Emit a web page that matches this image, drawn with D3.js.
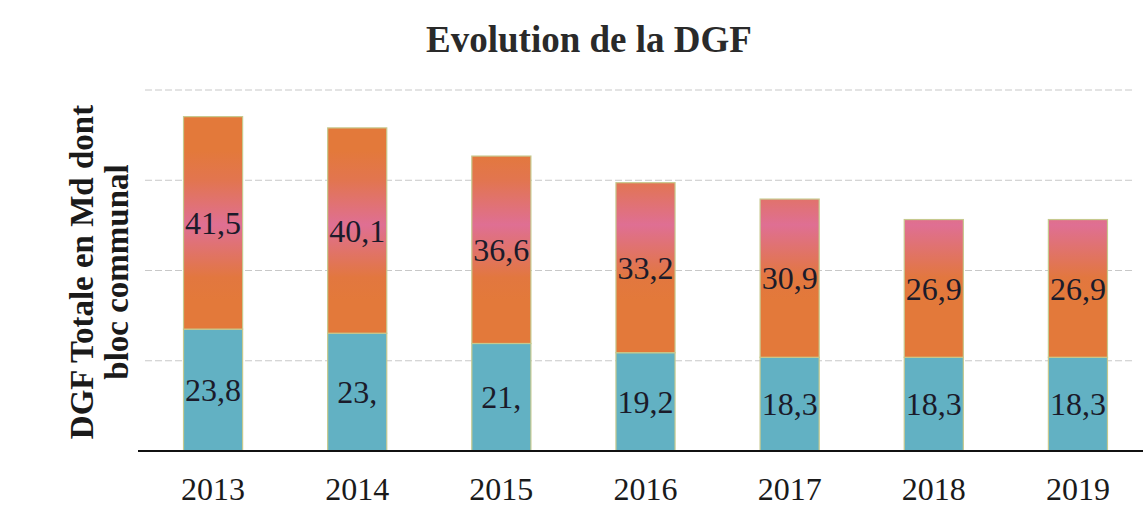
<!DOCTYPE html>
<html>
<head>
<meta charset="utf-8">
<script src="https://cdn.jsdelivr.net/npm/d3@7"></script>
<style>
  html, body { margin: 0; padding: 0; background: #ffffff; }
  svg { display: block; }
</style>
</head>
<body>
<svg id="chart" width="1143" height="506"></svg>
<script>
// ---- Data ----
const years = ["2013", "2014", "2015", "2016", "2017", "2018", "2019"];
const blocCommunal = [23.8, 23.0, 21.0, 19.2, 18.3, 18.3, 18.3];
const dgfTotale = [41.5, 40.1, 36.6, 33.2, 30.9, 26.9, 26.9];
const blocLabels = ["23,8", "23,", "21,", "19,2", "18,3", "18,3", "18,3"];
const totaleLabels = ["41,5", "40,1", "36,6", "33,2", "30,9", "26,9", "26,9"];
const yMax = 70.5;
const gridCount = 4;

const title = "Evolution de la DGF";
const yTitleLines = ["DGF Totale en Md dont", "bloc communal"];

// ---- Setup ----
const svg = d3.select("#chart");
const W = 1143, H = 506;
svg.append("rect").attr("width", W).attr("height", H).attr("fill", "#ffffff");

const x = d3.scaleBand().domain(years).range([141, 1150]).paddingInner(0.59).paddingOuter(0.295);
const y = d3.scaleLinear().domain([0, yMax]).range([451, 90]);

// gradient for the upper series (user space so the pink band sits at the same height)
const defs = svg.append("defs");
const grad = defs.append("linearGradient")
  .attr("id", "topGrad")
  .attr("gradientUnits", "userSpaceOnUse")
  .attr("x1", 0).attr("x2", 0)
  .attr("y1", 150).attr("y2", 300);
grad.append("stop").attr("offset", "0").attr("stop-color", "#e3793a");
grad.append("stop").attr("offset", "0.2").attr("stop-color", "#e2754f");
grad.append("stop").attr("offset", "0.5").attr("stop-color", "#df6f93");
grad.append("stop").attr("offset", "0.85").attr("stop-color", "#e2773f");
grad.append("stop").attr("offset", "1").attr("stop-color", "#e3793a");

// gridlines
const gridVals = d3.range(1, gridCount + 1).map(i => i * yMax / gridCount);
svg.append("g").selectAll("line").data(gridVals).join("line")
  .attr("x1", 145).attr("x2", 1135)
  .attr("y1", d => y(d)).attr("y2", d => y(d))
  .attr("stroke", "#c8c8c8")
  .attr("stroke-width", 1)
  .attr("stroke-dasharray", "7,3");

// stacked data
const rows = years.map((yr, i) => ({ year: yr, bloc: blocCommunal[i], totale: dgfTotale[i] }));
const stack = d3.stack().keys(["bloc", "totale"])(rows);
const fills = { bloc: "#62b1c3", totale: "url(#topGrad)" };
const labelsByKey = { bloc: blocLabels, totale: totaleLabels };

const layers = svg.append("g").selectAll("g").data(stack).join("g");
layers.selectAll("rect").data(d => d.map(p => ({ p, key: d.key }))).join("rect")
  .attr("x", d => x(d.p.data.year))
  .attr("width", x.bandwidth())
  .attr("y", d => y(d.p[1]))
  .attr("height", d => y(d.p[0]) - y(d.p[1]))
  .attr("fill", d => fills[d.key])
  .attr("stroke", "#c6c98e")
  .attr("stroke-width", 1.2);

layers.selectAll("text").data(d => d.map((p, i) => ({ p, key: d.key, i }))).join("text")
  .attr("x", d => x(d.p.data.year) + x.bandwidth() / 2)
  .attr("y", d => (y(d.p[0]) + y(d.p[1])) / 2)
  .attr("dy", "0.35em")
  .attr("text-anchor", "middle")
  .attr("font-family", "'Liberation Serif', serif")
  .attr("font-size", 32)
  .attr("fill", "#1b1b2a")
  .text(d => labelsByKey[d.key][d.i]);

// baseline
svg.append("line")
  .attr("x1", 138).attr("x2", W)
  .attr("y1", y(0)).attr("y2", y(0))
  .attr("stroke", "#111").attr("stroke-width", 2);

// x axis labels
const xAxis = svg.append("g")
  .attr("transform", `translate(0,${y(0)})`)
  .call(d3.axisBottom(x).tickSize(0).tickPadding(26));
xAxis.select(".domain").remove();
xAxis.selectAll("text")
  .attr("font-family", "'Liberation Serif', serif")
  .attr("font-size", 32)
  .attr("fill", "#1a1a1a");

// title
svg.append("text")
  .attr("x", 589).attr("y", 52)
  .attr("text-anchor", "middle")
  .attr("font-family", "'Liberation Serif', serif")
  .attr("font-weight", "bold")
  .attr("font-size", 37)
  .attr("fill", "#2a2a2a")
  .text(title);

// y title
const yt = svg.append("text")
  .attr("transform", "translate(93,272) rotate(-90)")
  .attr("text-anchor", "middle")
  .attr("font-family", "'Liberation Serif', serif")
  .attr("font-weight", "bold")
  .attr("font-size", 33)
  .attr("fill", "#1a1a1a");
yt.selectAll("tspan").data(yTitleLines).join("tspan")
  .attr("x", 0)
  .attr("dy", (d, i) => i === 0 ? 0 : 35)
  .text(d => d);
</script>
</body>
</html>
